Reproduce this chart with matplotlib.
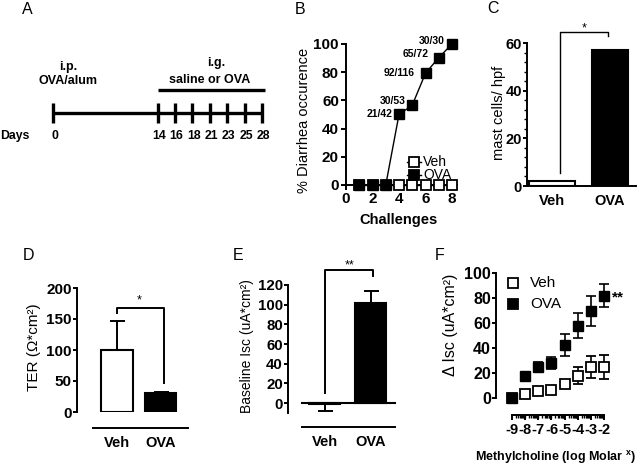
import matplotlib
matplotlib.use('Agg')
import matplotlib.pyplot as plt
import numpy as np
from matplotlib.lines import Line2D
from matplotlib.ticker import MultipleLocator, FixedLocator

plt.rcParams['font.family'] = ['Liberation Sans', 'DejaVu Sans']
plt.rcParams['mathtext.fontset'] = 'custom'
plt.rcParams['mathtext.rm'] = 'Liberation Sans'
plt.rcParams['mathtext.it'] = 'Liberation Sans:italic'
plt.rcParams['mathtext.bf'] = 'Liberation Sans:bold'

# ---------------- data ----------------
days = [0, 14, 16, 18, 21, 23, 25, 28]
challenges = [1, 2, 3, 4, 5, 6, 7, 8]
veh_diarrhea = [0, 0, 0, 0, 0, 0, 0, 0]
ova_diarrhea = [0, 0, 0, 50, 56.6, 79.3, 90.3, 100]
ova_counts = ['', '', '', '21/42', '30/53', '92/116', '65/72', '30/30']
groups = ['Veh', 'OVA']
mast_cells = [2, 57]
ter_mean = [100, 30]
ter_err = [47, 2]
isc_mean = [-1, 102]
isc_err_low = [7, 0]
isc_err_high = [0, 12]
log_molar = [-9, -8, -7, -6, -5, -4, -3, -2]
veh_disc = [0, 3.5, 6, 6.7, 11, 18, 25, 25]
veh_disc_err = [0, 0.5, 1, 1.5, 3, 6.5, 9, 9.5]
ova_disc = [0, 17.9, 24.8, 28, 42.4, 58, 70, 82]
ova_disc_err = [0, 1, 4, 5, 9, 10, 12, 9.5]

W, H = 638, 466
fig = plt.figure(figsize=(W / 100, H / 100), dpi=100)


def fx(px):
    return px / W


def fy(py):
    return 1 - py / H


def add_ax(l, t, r, b):
    return fig.add_axes([l / W, 1 - b / H, (r - l) / W, (b - t) / H])


LW = 1.4


def style(ax):
    for s in ['top', 'right']:
        ax.spines[s].set_visible(False)
    for s in ['left', 'bottom']:
        ax.spines[s].set_linewidth(LW)
    ax.tick_params(width=LW, length=3.6, color='k')
    ax.patch.set_alpha(0)


# ---------------- Panel A ----------------
axA = add_ax(0, 0, 300, 230)
axA.axis('off')
xpos = [0] + list(np.linspace(14, 28, len(days) - 1))
k = (262 - 53) / 28.0
axA.set_xlim(-53 / k, (300 - 53) / k)
axA.set_ylim(230, 0)
axA.plot([xpos[0], xpos[-1]], [113, 113], color='k', lw=2.4, solid_capstyle='butt')
for xp, d in zip(xpos, days):
    axA.plot([xp, xp], [103, 123], color='k', lw=2.4, solid_capstyle='butt')
    axA.text(xp + 0.2, 136, str(d), ha='center', va='center', fontsize=8.8, fontweight='bold')
axA.plot([xpos[1], xpos[-1] + 0.4], [90, 90], color='k', lw=2.4, solid_capstyle='butt')
fig.text(fx(0), fy(136), 'Days', ha='left', va='center', fontsize=8.8, fontweight='bold')
fig.text(fx(68), fy(67), 'i.p.', ha='center', va='center', fontsize=9, fontweight='bold')
fig.text(fx(68), fy(81), 'OVA/alum', ha='center', va='center', fontsize=9, fontweight='bold')
fig.text(fx(216), fy(63), 'i.g.', ha='center', va='center', fontsize=9, fontweight='bold')
fig.text(fx(210), fy(80), 'saline or OVA', ha='center', va='center', fontsize=9, fontweight='bold')

# ---------------- Panel B ----------------
axB = add_ax(346, 44, 457.3, 185)
style(axB)
axB.set_xlim(0, 8.4)
axB.set_ylim(0, 100)
axB.plot(challenges, veh_diarrhea, '-', marker='s', color='k', mfc='white', mec='k',
         ms=7, mew=1.3, lw=1, clip_on=False, zorder=3)
axB.plot(challenges, ova_diarrhea, '-', marker='s', color='k', mfc='k', mec='k',
         ms=7, lw=1, clip_on=False, zorder=4)
axB.set_xticks([0, 2, 4, 6, 8])
axB.set_yticks([0, 20, 40, 60, 80, 100])
axB.tick_params(axis='both', labelsize=11, pad=1.5, length=3.6)
for t in axB.get_xticklabels() + axB.get_yticklabels():
    t.set_fontweight('bold')
offsets = [(0, 0), (0, 0), (0, 0), (-6.5, 0), (-6.6, 4), (-10.7, 0), (-10.6, 3.5), (-7, 3)]
for i, txt in enumerate(ova_counts):
    if txt:
        axB.annotate(txt, (challenges[i], ova_diarrhea[i]), xytext=offsets[i],
                     textcoords='offset pixels', ha='right', va='center',
                     fontsize=7.5, fontweight='bold')
for yy, face, lab in [(161.5, 'white', 'Veh'), (175, 'k', 'OVA')]:
    fig.add_artist(Line2D([fx(407), fx(421)], [fy(yy), fy(yy)], color='k', lw=1))
    fig.add_artist(Line2D([fx(414)], [fy(yy)], marker='s', ms=7, mfc=face, mec='k', mew=1.3))
    fig.text(fx(423), fy(yy), lab, ha='left', va='center', fontsize=10)
fig.text(fx(304), fy(120), '% Diarrhea occurence', rotation=90, ha='center', va='center', fontsize=10.5)
fig.text(fx(399), fy(220), 'Challenges', ha='center', va='center', fontsize=10.5, fontweight='bold')

# ---------------- Panel C ----------------
axC = add_ax(527, 43, 636, 186)
style(axC)
axC.set_xlim(-0.431, 1.448)
axC.set_ylim(0, 60)
axC.bar([0, 1], mast_cells, width=[0.793, 0.62], color=['white', 'k'], edgecolor='k', lw=1.5, zorder=3)
axC.set_xticks([0, 1])
axC.set_xticklabels(groups)
axC.set_yticks([0, 20, 40, 60])
axC.yaxis.set_minor_locator(MultipleLocator(4))
axC.tick_params(axis='x', length=0, pad=6, labelsize=10.5)
axC.tick_params(axis='y', labelsize=10.5, pad=0.5, length=3.2)
axC.tick_params(axis='y', which='minor', length=2, width=1)
for t in axC.get_xticklabels() + axC.get_yticklabels():
    t.set_fontweight('bold')
axC.plot([0.14, 0.14, 0.96, 0.96], [5.5, 64.6, 64.6, 63], color='k', lw=1, clip_on=False)
axC.text(0.55, 66.0, '*', ha='center', va='center', fontsize=9)
fig.text(fx(498.5), fy(112.5), 'mast cells/ hpf', rotation=90, ha='center', va='center', fontsize=10.5)

# ---------------- Panel D ----------------
axD = add_ax(77, 288, 188, 412)
style(axD)
axD.set_xlim(-0.909, 1.614)
axD.set_ylim(0, 200)
axD.errorbar([0, 1], ter_mean, yerr=[[0, 0], ter_err], fmt='none', ecolor='k',
             elinewidth=1.4, capsize=5.4, capthick=1.4, zorder=2)
axD.bar([0, 1], ter_mean, width=0.705, color=['white', 'k'], edgecolor='k', lw=1.5, zorder=3)
axD.spines['bottom'].set_position(('outward', 11.5))
axD.spines['bottom'].set_bounds(-0.545, 1.614)
axD.spines['left'].set_bounds(0, 200)
axD.set_xticks([0, 1])
axD.set_xticklabels(groups)
axD.set_yticks([0, 50, 100, 150, 200])
axD.tick_params(axis='x', length=0, pad=6, labelsize=10.5)
axD.tick_params(axis='y', labelsize=11, pad=0.5, length=3.2)
for t in axD.get_xticklabels() + axD.get_yticklabels():
    t.set_fontweight('bold')
axD.plot([0, 0, 1.07, 1.07], [160, 168, 168, 47], color='k', lw=1.4, clip_on=False)
axD.text(0.5, 180, '*', ha='center', va='center', fontsize=9)
fig.text(fx(34), fy(347.5), 'TER (\u03a9*cm\u00b2)', rotation=90, ha='center', va='center', fontsize=11)

# ---------------- Panel E ----------------
axE = add_ax(288, 285, 395, 413)
style(axE)
axE.set_xlim(-0.804, 1.522)
axE.set_ylim(-10, 120)
axE.errorbar([0, 1], isc_mean, yerr=[isc_err_low, isc_err_high], fmt='none', ecolor='k',
             elinewidth=1.4, capsize=5.4, capthick=1.4, zorder=2)
axE.bar([0, 1], isc_mean, width=0.674, color=['white', 'k'], edgecolor='k', lw=1.5, zorder=3)
axE.plot([-0.5, 1.522], [0, 0], color='k', lw=1.5, clip_on=False, zorder=4)
axE.spines['bottom'].set_position(('outward', 10.1))
axE.spines['bottom'].set_bounds(-0.5, 1.522)
axE.spines['left'].set_bounds(-10, 120)
axE.set_xticks([0, 1])
axE.set_xticklabels(groups)
axE.set_yticks([0, 20, 40, 60, 80, 100, 120])
axE.tick_params(axis='x', length=0, pad=6, labelsize=10.5)
axE.tick_params(axis='y', labelsize=10.8, pad=0.5, length=3.2)
for t in axE.get_xticklabels() + axE.get_yticklabels():
    t.set_fontweight('bold')
axE.plot([0, 0, 1.05, 1.05], [10.5, 135, 135, 129.5], color='k', lw=1.4, clip_on=False)
axE.text(0.54, 140, '**', ha='center', va='center', fontsize=9)
fig.text(fx(247), fy(346), 'Baseline Isc (uA*cm\u00b2)', rotation=90, ha='center', va='center', fontsize=10)

# ---------------- Panel F ----------------
axF = add_ax(496, 273, 614, 398)
style(axF)
axF.set_xlim(-10.22, -1.24)
axF.set_ylim(0, 100)
axF.errorbar(log_molar, veh_disc, yerr=veh_disc_err, fmt='s', mfc='white', mec='k', mew=1.3,
             ms=6.5, ecolor='k', elinewidth=1.2, capsize=3.5, capthick=1.2, clip_on=False, zorder=3)
axF.errorbar(log_molar, ova_disc, yerr=ova_disc_err, fmt='s', mfc='k', mec='k',
             ms=6.5, ecolor='k', elinewidth=1.2, capsize=3.5, capthick=1.2, clip_on=False, zorder=4)
axF.spines['bottom'].set_position(('outward', 12.2))
axF.spines['bottom'].set_bounds(-9, -2)
axF.spines['left'].set_bounds(0, 100)
axF.set_xticks(log_molar)
axF.set_xticklabels([str(v) for v in log_molar])
minor = [d + np.log10(m) for d in log_molar[:-1] for m in range(2, 10)]
axF.xaxis.set_minor_locator(FixedLocator(minor))
axF.set_yticks([0, 20, 40, 60, 80, 100])
axF.tick_params(axis='x', length=3.5, pad=2, labelsize=10.5)
axF.tick_params(axis='x', which='minor', length=2.2, width=1)
axF.tick_params(axis='y', labelsize=11.5, pad=0.5, length=3.2)
for t in axF.get_xticklabels() + axF.get_yticklabels():
    t.set_fontweight('bold')
axF.annotate('**', (log_molar[-1], ova_disc[-1]), xytext=(8, -2), textcoords='offset pixels',
             ha='left', va='center', fontsize=11, fontweight='bold')
for yy, face, lab in [(283, 'white', 'Veh'), (304, 'k', 'OVA')]:
    fig.add_artist(Line2D([fx(513)], [fy(yy)], marker='s', ms=6.5, mfc=face, mec='k', mew=1.3))
    fig.text(fx(530), fy(yy), lab, ha='left', va='center', fontsize=11)
fig.text(fx(450), fy(325), '\u0394 Isc (uA*cm\u00b2)', rotation=90, ha='center', va='center', fontsize=11.5)
fig.text(fx(555), fy(457), 'Methylcholine (log Molar $^{\\mathbf{x}}$)', ha='center', va='center',
         fontsize=9, fontweight='bold')

# ---------------- Panel letters ----------------
for lab, (px, py) in zip('ABCDEF', [(27.5, 9.5), (300, 10), (493, 8.5), (28.3, 255), (238.3, 255), (440, 255)]):
    fig.text(fx(px), fy(py), lab, ha='center', va='center', fontsize=11.5)

fig.savefig('out.png', dpi=100)
